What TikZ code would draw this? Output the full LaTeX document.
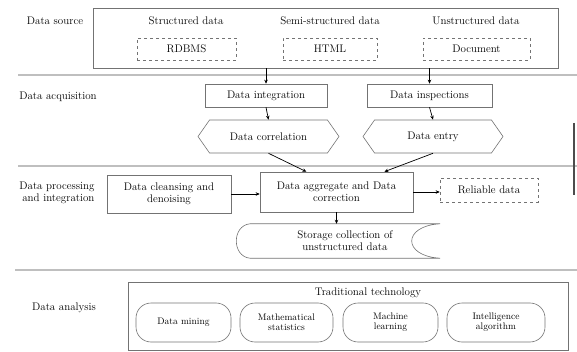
\documentclass[tikz,border=0pt]{standalone}
\usetikzlibrary{shapes.symbols,arrows.meta}
\begin{document}
\begin{tikzpicture}[x=1pt,y=-1pt,
  font=\fontsize{11}{12}\selectfont,
  frame/.style={draw=black!55, line width=0.6pt, inner sep=0pt},
  box/.style={draw=black!55, line width=0.6pt, minimum height=23pt, inner sep=2pt},
  dbox/.style={box, dashed},
  hexa/.style={draw=black!55, line width=0.6pt, signal, signal to=west and east,
    signal pointer angle=110, minimum height=33pt, inner sep=2pt},
  tech/.style={draw=black!55, line width=0.6pt, rounded corners=15pt, minimum width=95pt,
    minimum height=39pt, align=center, font=\fontsize{9.5}{10}\selectfont},
  arr/.style={-{Stealth[length=4pt,width=3.5pt]}, black, line width=0.7pt},
  sep/.style={black!25, line width=1.5pt}]
\useasboundingbox (0,0) rectangle (577,352);

% Separators
\draw[sep] (18,75) -- (577,75);
\draw[sep] (18,166) -- (577,166);
\draw[sep] (15,270) -- (577,270);
\draw[black!70, line width=1.2pt] (574,123) -- (574,195);

% Data source
\node (lsrc) at (55,21) {Data source};
\node[frame, minimum width=465pt, minimum height=60pt] (src) at (325.5,38) {};
\node (tstr) at (186,21) {Structured data};
\node (tsemi) at (330,21) {Semi-structured data};
\node (tuns) at (476,21) {Unstructured data};
\node[dbox, minimum width=99pt, minimum height=22pt] (rdbms) at (186.5,49) {RDBMS};
\node[dbox, minimum width=94pt, minimum height=22pt] (html) at (330,49) {HTML};
\node[dbox, minimum width=107pt, minimum height=22pt] (doc) at (476.5,49) {Document};

% Data acquisition
\node (lacq) at (58,97) {Data acquisition};
\node[box, minimum width=122pt] (integ) at (266,95.5) {Data integration};
\node[box, minimum width=125pt] (insp) at (429.5,95.5) {Data inspections};
\node[hexa, minimum width=141pt] (corr) at (268.5,136.5) {Data correlation};
\node[hexa, minimum width=140pt] (entry) at (433,136.5) {Data entry};

\draw[arr] (integ.north |- src.south) -- (integ.north);
\draw[arr] (insp.north |- src.south) -- (insp.north);
\draw[arr] (integ.south) -- (corr.north);
\draw[arr] (insp.south) -- (entry.north);

% Data processing and integration
\node[align=right, anchor=east] (lproc) at (98,193) {Data processing\\and integration};
\node[box, minimum width=124pt, minimum height=38pt, align=center] (clean) at (169,194) {Data cleansing and\\denoising};
\node[box, minimum width=153pt, minimum height=40pt, align=center] (agg) at (336.5,192) {Data aggregate and Data\\correction};
\node[dbox, minimum width=98pt, minimum height=24pt] (rel) at (489,190) {Reliable data};
\node[minimum width=190pt, minimum height=34pt, inner sep=0pt, align=center] (store) at (345,241) {Storage collection of\\unstructured data};
\draw[draw=black!55, line width=0.6pt] (store.north west) -- (store.north east)
  .. controls +(-38,2) and +(-38,-2) .. (store.south east) -- (store.south west)
  .. controls +(-18,-2) and +(-18,2) .. (store.north west);

\draw[arr] (corr.south) -- (agg.146);
\draw[arr] (entry.south) -- (agg.23);
\draw[arr] (clean.east) -- (clean.east -| agg.west);
\draw[arr] (agg.east) -- (agg.east -| rel.west);
\draw[arr] (agg.south) -- (agg.south |- store.north);

% Data analysis
\node (lana) at (64,308) {Data analysis};
\node[frame, minimum width=440pt, minimum height=68pt] (ana) at (348,316) {};
\node (ttrad) at (368,293) {Traditional technology};
\node[tech] (mine) at (183.5,322.5) {Data mining};
\node[tech, minimum width=93pt] (math) at (286.5,322.5) {Mathematical\\statistics};
\node[tech] (mach) at (390.5,322.5) {Machine\\learning};
\node[tech, minimum width=98pt] (intel) at (496,322.5) {Intelligence\\algorithm};
\end{tikzpicture}
\end{document}
